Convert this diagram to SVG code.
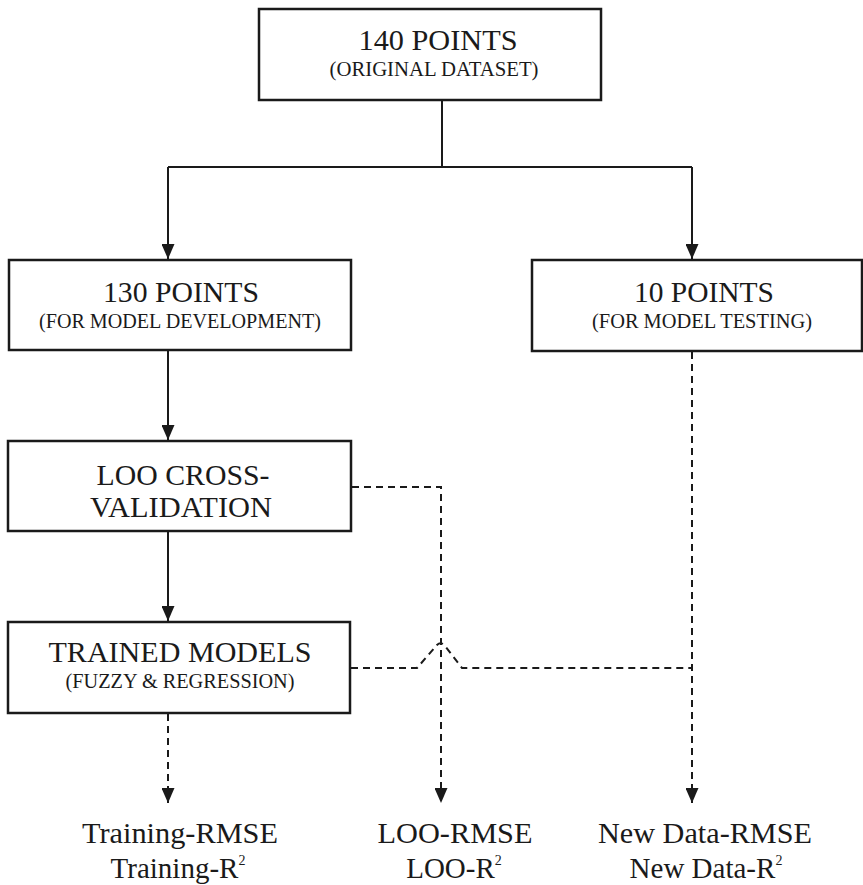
<svg xmlns="http://www.w3.org/2000/svg" width="863" height="885" viewBox="0 0 863 885">
<defs>
<style>
.box{fill:#fff;stroke:#1a1a1a;stroke-width:2.5}
.t{font-family:"Liberation Serif","Times New Roman",serif;fill:#1a1a1a;text-anchor:middle}
.big{font-size:29px}
.small{font-size:20px}
.sup{font-size:14px}
.solid{fill:none;stroke:#1a1a1a;stroke-width:2}
.dash{fill:none;stroke:#1a1a1a;stroke-width:2;stroke-dasharray:7 5}
</style>
<marker id="ah" markerUnits="userSpaceOnUse" markerWidth="15" markerHeight="13" refX="15" refY="6.5" orient="auto">
<path d="M0,0 L15,6.5 L0,13 Z" fill="#1a1a1a"/>
</marker>
</defs>
<rect width="863" height="885" fill="#fff"/>
<g id="connectors">
<path class="solid" d="M442,101 V167"/>
<path class="solid" d="M168,167 H692"/>
<path class="solid" d="M168,167 V259" marker-end="url(#ah)"/>
<path class="solid" d="M692,167 V259" marker-end="url(#ah)"/>
<path class="solid" d="M168,351 V440" marker-end="url(#ah)"/>
<path class="solid" d="M168,532 V621" marker-end="url(#ah)"/>
<path class="dash" d="M352,487 H441 V803" marker-end="url(#ah)"/>
<path class="dash" d="M692,352 V803" marker-end="url(#ah)"/>
<path class="dash" d="M351,668 H417 L437,645 Q441,641 445,646 L462,668 H692"/>
<path class="dash" d="M168,714 V803" marker-end="url(#ah)"/>
</g>
<g id="n140">
<rect class="box" x="259" y="9" width="342" height="91"/>
<text class="t big" x="438" y="50" textLength="159" lengthAdjust="spacingAndGlyphs">140 POINTS</text>
<text class="t small" x="434" y="76" textLength="209" lengthAdjust="spacingAndGlyphs">(ORIGINAL DATASET)</text>
</g>
<g id="n130">
<rect class="box" x="9" y="260" width="342" height="90"/>
<text class="t big" x="181" y="302" textLength="156" lengthAdjust="spacingAndGlyphs">130 POINTS</text>
<text class="t small" x="180" y="328" textLength="282" lengthAdjust="spacingAndGlyphs">(FOR MODEL DEVELOPMENT)</text>
</g>
<g id="n10">
<rect class="box" x="532" y="260" width="330" height="91"/>
<text class="t big" x="704" y="302" textLength="140" lengthAdjust="spacingAndGlyphs">10 POINTS</text>
<text class="t small" x="702" y="328" textLength="220" lengthAdjust="spacingAndGlyphs">(FOR MODEL TESTING)</text>
</g>
<g id="nloo">
<rect class="box" x="8" y="441" width="343" height="90"/>
<text class="t big" x="183" y="485" textLength="173" lengthAdjust="spacingAndGlyphs">LOO CROSS-</text>
<text class="t big" x="181" y="517" textLength="182" lengthAdjust="spacingAndGlyphs">VALIDATION</text>
</g>
<g id="ntrained">
<rect class="box" x="8" y="622" width="342" height="91"/>
<text class="t big" x="180" y="662" textLength="263" lengthAdjust="spacingAndGlyphs">TRAINED MODELS</text>
<text class="t small" x="180" y="688" textLength="229" lengthAdjust="spacingAndGlyphs">(FUZZY &amp; REGRESSION)</text>
</g>
<g id="otrain">
<text class="t big" x="180" y="843" textLength="196" lengthAdjust="spacingAndGlyphs">Training-RMSE</text>
<text class="t big" x="178" y="878">Training-R<tspan class="sup" dy="-13">2</tspan></text>
</g>
<g id="oloo">
<text class="t big" x="455" y="843" textLength="155" lengthAdjust="spacingAndGlyphs">LOO-RMSE</text>
<text class="t big" x="454" y="878">LOO-R<tspan class="sup" dy="-13">2</tspan></text>
</g>
<g id="onew">
<text class="t big" x="705" y="843" textLength="214" lengthAdjust="spacingAndGlyphs">New Data-RMSE</text>
<text class="t big" x="706" y="878">New Data-R<tspan class="sup" dy="-13">2</tspan></text>
</g>
</svg>
